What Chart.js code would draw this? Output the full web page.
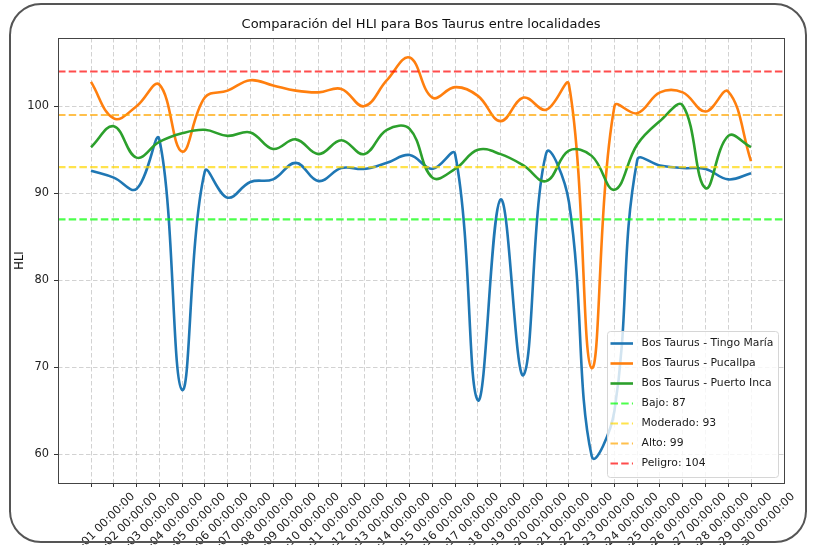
<!DOCTYPE html>
<html>
<head>
<meta charset="utf-8">
<script src="https://cdn.jsdelivr.net/npm/chart.js@4.4.1/dist/chart.umd.min.js"></script>
<style>
    html, body { margin: 0; padding: 0; background: #fff; }
    #wrap { position: relative; width: 814px; height: 545px; overflow: hidden; }
    #hliChart { position: absolute; left: 0; top: 0; }
    #frame {
        position: absolute; left: 9px; top: 3px; width: 798px; height: 540px;
        box-sizing: border-box; border: 2.5px solid #555; border-radius: 32px;
        pointer-events: none;
    }
</style>
</head>
<body>
<div id="wrap">
    <canvas id="hliChart" width="814" height="545"></canvas>
    <div id="frame"></div>
</div>
<script>
// Etiquetas del eje X (fechas)
const fechas = [
    '2024-01-01 00:00:00', '2024-01-02 00:00:00', '2024-01-03 00:00:00', '2024-01-04 00:00:00',
    '2024-01-05 00:00:00', '2024-01-06 00:00:00', '2024-01-07 00:00:00', '2024-01-08 00:00:00',
    '2024-01-09 00:00:00', '2024-01-10 00:00:00', '2024-01-11 00:00:00', '2024-01-12 00:00:00',
    '2024-01-13 00:00:00', '2024-01-14 00:00:00', '2024-01-15 00:00:00', '2024-01-16 00:00:00',
    '2024-01-17 00:00:00', '2024-01-18 00:00:00', '2024-01-19 00:00:00', '2024-01-20 00:00:00',
    '2024-01-21 00:00:00', '2024-01-22 00:00:00', '2024-01-23 00:00:00', '2024-01-24 00:00:00',
    '2024-01-25 00:00:00', '2024-01-26 00:00:00', '2024-01-27 00:00:00', '2024-01-28 00:00:00',
    '2024-01-29 00:00:00', '2024-01-30 00:00:00'
];

// HLI por localidad
const tingoMaria = [92.6, 91.8, 90.5, 96.2, 67.4, 92.5, 89.5, 91.3, 91.6, 93.5,
                    91.4, 92.9, 92.8, 93.5, 94.4, 92.8, 94.5, 66.2, 89.3, 69.1,
                    94.6, 89.0, 59.8, 65.0, 93.8, 93.2, 92.9, 92.8, 91.6, 92.3];
const pucallpa   = [102.8, 98.6, 100.0, 102.5, 94.8, 101.0, 101.8, 103.0, 102.4, 101.8,
                    101.6, 102.0, 100.0, 103.0, 105.6, 101.0, 102.2, 101.2, 98.3, 101.0,
                    99.6, 102.5, 69.9, 100.0, 99.2, 101.6, 101.6, 99.4, 101.7, 93.7];
const puertoInca = [95.3, 97.7, 94.1, 95.9, 96.9, 97.3, 96.6, 97.0, 95.1, 96.2,
                    94.5, 96.1, 94.5, 97.3, 97.4, 91.8, 92.8, 95.0, 94.5, 93.2,
                    91.4, 94.9, 94.3, 90.4, 95.6, 98.3, 100.1, 90.6, 96.6, 95.3];

const seriesNombres = ['Bos Taurus - Tingo María', 'Bos Taurus - Pucallpa', 'Bos Taurus - Puerto Inca'];
const seriesColores = ['#1f77b4', '#ff7f0e', '#2ca02c'];

// Umbrales de estrés
const umbralNombres = ['Bajo', 'Moderado', 'Alto', 'Peligro'];
const umbralValores = [87, 93, 99, 104];
const umbralColores = ['rgba(0,255,0,0.7)', 'rgba(255,215,0,0.7)', 'rgba(255,165,0,0.7)', 'rgba(255,0,0,0.7)'];

const yTicks = [60, 70, 80, 90, 100];
const X_MIN = -1.45, X_MAX = 30.45;
const Y_MIN = 56.7, Y_MAX = 107.85;

const TITULO = 'Comparación del HLI para Bos Taurus entre localidades';
const FONT = 'DejaVu Sans';
const FS = 10.8;       // leyenda
const FS_TICK = 11.4;  // etiquetas de ejes

const toPoints = (arr) => arr.map((v, i) => ({ x: i, y: v }));

const datasets = [
    ...[tingoMaria, pucallpa, puertoInca].map((arr, i) => ({
        label: seriesNombres[i],
        data: toPoints(arr),
        borderColor: seriesColores[i],
        borderWidth: 2.6,
        pointRadius: 0,
        tension: 0.4,
        fill: false,
        order: 7 - i,
    })),
    ...umbralValores.map((v, i) => ({
        label: `${umbralNombres[i]}: ${v}`,
        data: [{ x: X_MIN, y: v }, { x: X_MAX, y: v }],
        borderColor: umbralColores[i],
        borderWidth: 2.2,
        borderDash: [7.5, 3.2],
        pointRadius: 0,
        tension: 0,
        fill: false,
        order: 4 - i,
    })),
];

// Título centrado sobre el área de trazado
const tituloPlugin = {
    id: 'tituloPlugin',
    afterDraw(chart) {
        const { ctx, chartArea: a } = chart;
        ctx.save();
        ctx.font = `13px "${FONT}"`;
        ctx.fillStyle = '#111';
        ctx.textAlign = 'center';
        ctx.textBaseline = 'middle';
        ctx.fillText(TITULO, (a.left + a.right) / 2, 24.5);
        ctx.restore();
    }
};

// Marco del área de trazado (spines)
const spines = {
    id: 'spines',
    afterDatasetsDraw(chart) {
        const { ctx, chartArea: a } = chart;
        ctx.save();
        ctx.strokeStyle = '#444';
        ctx.lineWidth = 1;
        ctx.setLineDash([]);
        ctx.strokeRect(Math.round(a.left) + 0.5, Math.round(a.top) + 0.5,
            Math.round(a.right - a.left), Math.round(a.bottom - a.top));
        ctx.restore();
    }
};

// Leyenda dentro del gráfico, abajo a la derecha
const legendBox = {
    id: 'legendBox',
    afterDatasetsDraw(chart) {
        const { ctx, chartArea: a } = chart;
        const dsList = chart.data.datasets;
        const w = 171, rowH = 20, h = 12 + rowH * (dsList.length - 1) + 14;
        const x0 = a.right - 6 - w, y0 = a.bottom - 6 - h;
        ctx.save();
        ctx.beginPath();
        ctx.roundRect(x0 + 0.5, y0 + 0.5, w, h, 3);
        ctx.fillStyle = 'rgba(255,255,255,0.8)';
        ctx.fill();
        ctx.strokeStyle = '#d6d6d6';
        ctx.lineWidth = 1;
        ctx.stroke();
        ctx.font = `${FS}px "${FONT}"`;
        ctx.textBaseline = 'middle';
        ctx.textAlign = 'left';
        dsList.forEach((ds, i) => {
            const y = y0 + 12.5 + i * rowH;
            ctx.beginPath();
            ctx.strokeStyle = ds.borderColor;
            ctx.lineWidth = ds.borderWidth;
            ctx.setLineDash(ds.borderDash || []);
            ctx.moveTo(x0 + 3.5, y);
            ctx.lineTo(x0 + 26, y);
            ctx.stroke();
            ctx.setLineDash([]);
            ctx.fillStyle = '#1a1a1a';
            ctx.fillText(ds.label, x0 + 34.5, y);
        });
        ctx.restore();
    }
};

const gridOpts = {
    color: '#c6c6c6', lineWidth: 0.8,
    tickLength: 4, tickColor: '#333', tickWidth: 1, tickBorderDash: [],
};

new Chart(document.getElementById('hliChart'), {
    type: 'line',
    data: { datasets },
    options: {
        responsive: false,
        animation: false,
        devicePixelRatio: 1,
        layout: { padding: { left: 0, right: 30, top: 38, bottom: 0 } },
        plugins: {
            legend: { display: false },
            tooltip: { enabled: false },
            title: { display: false },
        },
        scales: {
            x: {
                type: 'linear',
                min: X_MIN,
                max: X_MAX,
                bounds: 'data',
                afterBuildTicks: (s) => { s.ticks = fechas.map((_, i) => ({ value: i })); },
                afterFit: (s) => { s.height = 62; s.paddingLeft = 0; s.paddingRight = 0; },
                ticks: {
                    autoSkip: false,
                    minRotation: 45,
                    maxRotation: 45,
                    labelOffset: 42,
                    padding: 3,
                    color: '#222',
                    font: { family: FONT, size: FS_TICK },
                    callback: (v) => fechas[v] ?? '',
                },
                grid: gridOpts,
                border: { display: false, dash: [4.5, 2.5] },
            },
            y: {
                min: Y_MIN,
                max: Y_MAX,
                bounds: 'data',
                afterBuildTicks: (s) => { s.ticks = yTicks.map(v => ({ value: v })); },
                afterFit: (s) => { s.width = 58; },
                ticks: {
                    padding: 5,
                    color: '#222',
                    font: { family: FONT, size: FS_TICK },
                },
                grid: gridOpts,
                border: { display: false, dash: [4.5, 2.5] },
                title: {
                    display: true,
                    text: 'HLI',
                    color: '#111',
                    font: { family: FONT, size: FS_TICK },
                    padding: { top: 13, bottom: 0 },
                },
            },
        },
    },
    plugins: [spines, legendBox, tituloPlugin],
});
</script>
</body>
</html>
